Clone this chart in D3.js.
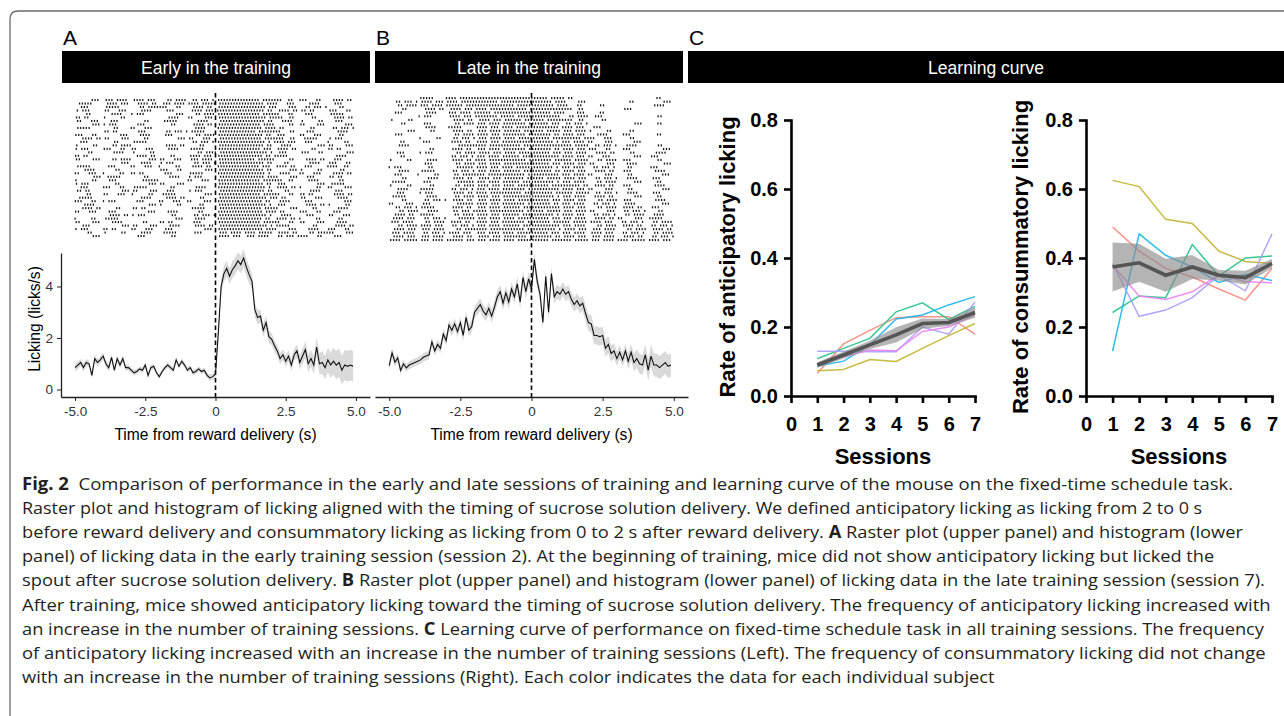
<!DOCTYPE html>
<html>
<head>
<meta charset="utf-8">
<script src="https://cdn.jsdelivr.net/npm/d3@7"></script>
<style>
  body { margin: 0; background: #fff; }
  svg { display: block; }
</style>
</head>
<body>
<svg id="fig" width="1284" height="716"></svg>
<script>
// ---- lick rasters: one string per trial, one char per 0.1 s bin from -5 s to +5 s ('#' = lick) ----
const rasterEarly = [
  "......###. .###.####. .####.###. ...##.#### ..##.###.# .######### ######.### ####..##.. ###...##.. ..####.##.",
  ".#####.... .####.###. ..####.##. .###.####. ####.##### .######### #######.## ##...###.. ...####... ..###.....",
  "..###..... .#####.... ...##.#### ###...##.. ..####.##. .######### ########.# ##....###. ..##.###.# ....##....",
  "#.###..... ##...###.. ...####... ..###..... .####.###. ########## #######.## ..####.##. ##.##..... ###...##..",
  "....##.... ...####... #.###..... ......###. ...##.#### .######### ######.### ###...##.. ..###..... .#####....",
  "##.##..... #.....##.. .......... ...####... ##....###. .######### ########.# ####..##.. ....##.... ..####.##.",
  "##...###.. ..###..... ....##.... .#####.... ...####... .######### #######.## ...####... #.....##.. ..###.....",
  "......###. #.###..... ..###..... ....##.... ..####.##. .######### ######.### #.....##.. ##....###. ......###.",
  ".#####.... ....##.... ##...###.. .......... ...####... .######### #######.## ##.##..... ....##.... ..##.###.#",
  ".......... ##.##..... ..###..... ..##.###.# .#####.... .######### ####.##### ###...##.. ..###..... ...####...",
  "###...##.. ......###. ...####... ..###..... ...##.#### .######### #######.## ..###..... ##...###.. ....##....",
  "..####.##. ##....###. ....##.... ......###. ##...###.. .######### ######.### ####..##.. .#####.... #.###.....",
  "..###..... ....##.... .#####.... .......... ..##.###.# .######### ########.# .####.###. ..###..... #.....##..",
  "#.....##.. ...##.#### .......... ..####.##. ....##.... .######### #######.## ...####... ......###. ##....###.",
  "#.###..... ###...##.. ##...###.. ...####... .#####.... .######### ######.### ..####.##. ....##.... ##.##.....",
  "....##.... ...####... #.....##.. .......... ...##.#### .######### ########.# ..###..... ###...##.. ......###.",
  "##.##..... .......... ..####.##. ....##.... .####.###. .######### #######.## .#####.... .......... ...####...",
  "##....###. ...##.#### ......###. ##...###.. .###.####. .######### ####.##### #.....##.. ..####.##. ..###.....",
  ".......... ......###. ...####... #.###..... ..##.###.# .######### #######.## ....##.... ...####... ###...##..",
  ".#####.... ..###..... ##...###.. #.....##.. ..####.##. .######### ######.### ..####.##. ..###..... ####..##..",
  "...####... ....##.... .......... ###...##.. ......###. .######### #######.## ......###. #.....##.. ....##....",
  "##...###.. #.....##.. ##.##..... ..###..... .#####.... .######### ########.# ...####... ##...###.. ..####.##.",
  "......###. .#####.... ....##.... ...####... #.###..... .######### #######.## ##....###. ..###..... ##.##.....",
  "#.....##.. ..###..... ....###### .......... ##...###.. .######### ######.### ####..##.. ...####... ....##....",
  "#.###..... ....##.... ......###. ##....###. .......... .######### #######.## ..###..... ......###. .#####....",
  "..###..... ###...##.. .#####.... ....##.... ...####... .######### ########.# ..####.##. #.....##.. ##....###.",
  "##.##..... ......###. ##....###. ..###..... #.###..... .######### #######.## ....##.... ...####... ..###.....",
  "....##.... ##...###.. #.....##.. .#####.... ......###. .######### ######.### ###...##.. ##.##..... ..####.##.",
  ".#####.... .......... ...####... ..####.##. ....##.... .######### ########.# ##.##..... ##...###.. ...####...",
  "###...##.. #.###..... ..###..... ##...###.. ##....###. .######### #######.## ...####... ..###..... ......###.",
  "...####... .......... ......###. #.....##.. ....##.... .######### ########.# ..###..... ..####.##. #.....##..",
  "..####.##. ....##.... ##.##..... .......... .#####.... .######### ######.### ##....###. ....##.... ...####...",
  "##...###.. ..###..... ......###. ...####... ....##.... .######### #######.## ##.##..... ###...##.. ..###.....",
  ".......... ..####.##. #.###..... ....##.... ..##.###.# .######### ########.# ...####... ..###..... ##...###..",
  "#.....##.. .#####.... .......... ......###. ...####... .######### #######.## ..####.##. #.....##.. ....##....",
  "##....###. ...####... ....##.... ##.##..... ..###..... .######### ######.### ###...##.. ##....###. ...####...",
  "..###..... ......###. ##....###. ...####... ..####.##. .######### ########.# .#####.... ....##.... ..####.##.",
  "#.###..... ##.##..... ##...###.. ..###..... ......###. .######### #######.## ##....###. ...####... ###...##..",
  "....##.... #.....##.. ...####... .#####.... ..###..... .###.####. ####.##### ..####.##. ...##.#### ##....###.",
  "......###. .......... ..###..... ....##.... .......... .####.###. .###.####. ..##.###.# ###...##.. ..###....."
];

const rasterLate = [
  ".......... .#####.... ####.##### ########## ########## ######.### ##.##..... .......... .......... ....##....",
  "..##.###.# .####.###. ####.##### ########.# ########## #######.## ##....###. .......... ....##.... ......###.",
  "...##.#### .###.####. ######.### ########## ####.##### ########.# ###...##.. ....##.... .......... ...####...",
  "....##.... ..####.##. .####.###. ####.##### ########.# ########## ####..##.. .......... ..###..... ..........",
  "..###..... ...####... .###.####. ######.### ########## #######.## ##....###. ....##.... .......... ..........",
  ".......... #.###..... .####.###. ########.# ####.##### ########## ...##.#### ..###..... .......... ....##....",
  "#.....##.. .......... ..####.##. .####.###. ######.### ####.##### ####..##.. ....##.... .......... ..........",
  "....##.... ..###..... ...##.#### .###.####. ########.# ######.### ..##.###.# .......... ......###. ....##....",
  ".......... ...####... .#####.... .####.###. ####.##### ########## .####.###. ..###..... .......... ..........",
  "......###. ....##.... ..####.##. .###.####. ######.### ####.##### .###.####. #.....##.. ....##.... ..........",
  "..###..... .......... ...##.#### .####.###. ########.# #######.## .####.###. ...####... ..###..... ....##....",
  ".......... #.....##.. ..##.###.# .###.####. ####.##### ######.### #######.## ##...###.. ....##.... ..........",
  "....##.... ..###..... ..####.##. .####.###. ########## ########.# .###.####. ##....###. ......###. ..........",
  "...####... .......... ....###### ####.##### ######.### ########## ####.##### ..##.###.# ...####... ....##....",
  ".......... ....##.... ..####.##. .###.####. ########.# #######.## .####.###. ###...##.. ..###..... ......###.",
  "..###..... #.###..... ...##.#### .####.###. ####.##### ######.### .###.####. ..####.##. ....##.... ...####...",
  "....##.... .......... ..##.###.# .###.####. ######.### ########## .####.###. ##...###.. ......###. ..###.....",
  "#.....##.. ...####... ..####.##. ####.##### ########.# #######.## ####.##### ...##.#### ..###..... ....##....",
  ".......... ..###..... ...##.#### .###.####. ########## ######.### .####.###. ##....###. ...####... ......###.",
  "#.###..... ....##.... ....###### .####.###. ####.##### ########.# .###.####. ..##.###.# ....##.... ..###.....",
  "...####... .#####.... ..##.###.# .###.####. ######.### #######.## .####.###. ..####.##. ..###..... ...####...",
  "..###..... #.....##.. ...##.#### ####.##### ########.# ########## .###.####. ##....###. ....##.... ......###.",
  "....##.... ...####... ..####.##. .####.###. #######.## ####.##### .####.###. ..##.###.# ...####... ..###.....",
  ".#####.... ..###..... ....###### .###.####. ######.### ########.# .###.####. ...##.#### ......###. ....##....",
  "#.....##.. ....##.... ...##.#### .####.###. ####.##### ######.### #######.## ..####.##. ..###..... ...####...",
  "...####... .#####.... ..##.###.# .###.####. ########.# ########## .####.###. ##....###. ....##.... ......###.",
  "..###..... #.###..... ..####.##. ####.##### ######.### #######.## ####.##### ..##.###.# ...####... ..###.....",
  ".#####.... ...####... ...##.#### .####.###. ########## ########.# .###.####. ..####.##. ......###. ....##....",
  "....##.... ..##.###.# ..####.##. .###.####. ####.##### ######.### .####.###. ...##.#### ..###..... ...####...",
  "##....###. ..###..... ....###### .####.###. ########.# #######.## .###.####. ..##.###.# ...####... ......###.",
  "..##.###.# .#####.... ..####.##. .###.####. ######.### ########## .####.###. ...##.#### ..####.##. ..###.....",
  "...##.#### ...####... ..##.###.# ####.##### #######.## ####.##### .###.####. ##....###. ..##.###.# ....##....",
  "..####.##. .#####.... ...##.#### .####.###. ######.### ########.# .####.###. ..##.###.# ...##.#### ...####...",
  ".####.###. ..##.###.# ....###### .###.####. ####.##### ######.### .###.####. ..####.##. ##....###. .#####....",
  ".###.####. ...##.#### ..####.##. .####.###. ########.# #######.## ####.##### .####.###. ..##.###.# ...##.####",
  "...##.#### .####.###. ..##.###.# .###.####. ######.### ########## .###.####. ...##.#### ..####.##. ..##.###.#",
  ".####.###. .###.####. ...##.#### ####.##### #######.## ########.# .####.###. .###.####. ...##.#### ..####.##.",
  ".###.####. ..##.###.# .####.###. .###.####. ####.##### ######.### .###.####. .####.###. ..##.###.# ...##.####",
  ".####.###. .###.####. ..####.##. .####.###. ########.# #######.## .####.###. .###.####. ..####.##. ..##.###.#",
  "####.##### .###.####. ######.### .###.####. ####.##### ######.### ####.##### .###.####. ####.##### .####.###."
];

// lick phase inside the bin for each trial row (fraction of a bin)
const lickPhase = [0.1,0.6,0.3,0.8,0.2,0.5,0.9,0.4,0.0,0.7, 0.3,0.8,0.1,0.6,0.4,0.9,0.2,0.5,0.7,0.0,
                   0.6,0.1,0.8,0.3,0.5,0.2,0.9,0.4,0.7,0.1, 0.5,0.8,0.2,0.6,0.0,0.4,0.9,0.3,0.7,0.5];

// ---- lick histograms (licks/s), 100 bins from -5.0 s to 4.9 s ----
const histEarly = [
  0.85,0.95,1.05,0.85,1.05,1.0,0.55,1.2,1.05,1.15, 1.3,1.0,0.85,1.25,0.75,1.2,0.95,1.2,0.85,0.85,
  0.75,0.65,0.7,0.8,0.75,0.95,0.55,0.85,0.9,0.65, 0.5,0.7,0.85,0.95,0.85,0.75,1.15,0.9,1.1,0.95,
  0.75,0.85,0.65,0.7,0.8,0.7,0.75,0.55,0.45,0.5,
  0.6,2.2,4.0,4.5,4.7,4.4,4.65,4.8,5.0,4.85, 5.1,4.75,4.45,4.2,3.1,2.8,2.85,2.3,2.6,2.05,
  1.95,1.7,1.5,1.2,1.35,1.1,1.3,0.95,1.35,1.5, 1.05,1.3,1.55,1.0,1.2,0.95,1.65,1.0,1.05,0.85,
  1.15,0.95,1.1,0.95,1.05,0.75,0.95,0.9,0.95,0.9
];
const semEarly = [
  0.15,0.15,0.14,0.15,0.14,0.13,0.13,0.15,0.14,0.14, 0.13,0.13,0.14,0.13,0.12,0.13,0.12,0.12,0.12,0.11,
  0.11,0.11,0.11,0.10,0.11,0.11,0.10,0.11,0.10,0.10, 0.10,0.10,0.10,0.11,0.10,0.11,0.11,0.10,0.11,0.11,
  0.10,0.10,0.10,0.10,0.10,0.10,0.10,0.10,0.12,0.12,
  0.15,0.25,0.30,0.30,0.30,0.30,0.32,0.33,0.33,0.34, 0.35,0.34,0.33,0.30,0.28,0.27,0.26,0.26,0.25,0.24,
  0.23,0.22,0.22,0.21,0.21,0.21,0.22,0.22,0.23,0.25, 0.27,0.30,0.32,0.33,0.33,0.35,0.38,0.42,0.45,0.45,
  0.47,0.50,0.52,0.55,0.55,0.56,0.58,0.60,0.60,0.60
];
const histLate = [
  0.93,1.42,1.06,1.23,0.74,1.0,0.84,0.95,1.0,1.05, 1.1,1.15,1.25,1.3,1.35,1.85,1.5,1.75,1.6,2.15,
  1.9,2.5,2.3,2.55,2.25,2.6,2.1,2.8,2.3,2.45, 3.0,3.15,3.3,3.05,2.9,3.15,2.85,3.2,3.6,3.8,
  3.35,3.75,3.4,3.9,3.6,4.1,3.4,4.35,3.8,4.3,
  3.9,5.05,4.2,3.7,2.6,4.4,3.0,4.5,3.6,3.8, 3.7,3.9,3.7,3.8,3.5,3.3,3.45,3.25,3.35,2.95,
  2.6,2.55,2.1,2.1,2.05,2.1,1.6,1.75,1.4,1.5, 1.2,1.45,1.15,1.5,1.1,1.45,1.05,1.2,1.0,0.95,
  1.35,0.75,1.3,0.95,0.95,0.85,0.95,1.05,0.9,0.95
];
const semLate = [
  0.20,0.20,0.18,0.17,0.16,0.15,0.15,0.15,0.15,0.15, 0.15,0.16,0.16,0.17,0.17,0.18,0.18,0.19,0.19,0.20,
  0.20,0.21,0.21,0.22,0.22,0.22,0.23,0.23,0.23,0.24, 0.24,0.24,0.25,0.25,0.25,0.25,0.26,0.26,0.26,0.26,
  0.26,0.27,0.27,0.27,0.27,0.28,0.28,0.28,0.28,0.28,
  0.28,0.28,0.28,0.28,0.28,0.28,0.28,0.28,0.28,0.28, 0.27,0.27,0.27,0.27,0.28,0.28,0.29,0.30,0.30,0.31,
  0.32,0.33,0.34,0.35,0.35,0.35,0.34,0.33,0.32,0.30, 0.28,0.27,0.27,0.28,0.30,0.32,0.34,0.36,0.38,0.40,
  0.41,0.42,0.43,0.44,0.45,0.45,0.45,0.45,0.45,0.45
];
const histTicks = [-5, -2.5, 0, 2.5, 5];
const histYTicks = [0, 2, 4];

// ---- learning curves ----
const sessions = [1, 2, 3, 4, 5, 6, 7];
const sessionTicks = [0, 1, 2, 3, 4, 5, 6, 7];
const rateTicks = [0, 0.2, 0.4, 0.6, 0.8];
const subjectColors = ["#F7877C", "#C1B12E", "#21C285", "#19B2F0", "#A79CFF", "#EA83F2"];

const antSalmon   = [0.066, 0.151, 0.190, 0.227, 0.230, 0.230, 0.179];
const antOlive    = [0.073, 0.077, 0.106, 0.100, 0.138, 0.175, 0.210];
const antGreen    = [0.108, 0.138, 0.167, 0.244, 0.270, 0.222, 0.260];
const antCyan     = [0.087, 0.101, 0.148, 0.223, 0.235, 0.264, 0.288];
const antLavender = [0.130, 0.130, 0.128, 0.128, 0.200, 0.179, 0.272];
const antPink     = [0.093, 0.114, 0.133, 0.131, 0.187, 0.200, 0.235];
const antMean     = [0.090, 0.119, 0.148, 0.177, 0.210, 0.213, 0.242];
const antSem      = [0.008, 0.010, 0.012, 0.022, 0.015, 0.010, 0.015];

const conSalmon   = [0.490, 0.420, 0.370, 0.345, 0.310, 0.278, 0.370];
const conOlive    = [0.625, 0.607, 0.512, 0.500, 0.420, 0.390, 0.384];
const conGreen    = [0.242, 0.290, 0.285, 0.439, 0.348, 0.400, 0.406];
const conCyan     = [0.130, 0.470, 0.408, 0.374, 0.329, 0.353, 0.335];
const conLavender = [0.384, 0.231, 0.249, 0.285, 0.350, 0.305, 0.470];
const conPink     = [0.380, 0.290, 0.280, 0.302, 0.352, 0.331, 0.328];
const conMean     = [0.374, 0.386, 0.350, 0.374, 0.350, 0.343, 0.384];
const conSem      = [0.071, 0.055, 0.048, 0.035, 0.015, 0.020, 0.013];

// ---- caption ----
const captionLines = [
  [["Fig. 2", true], ["  Comparison of performance in the early and late sessions of training and learning curve of the mouse on the fixed-time schedule task.", false]],
  [["Raster plot and histogram of licking aligned with the timing of sucrose solution delivery. We defined anticipatory licking as licking from 2 to 0 s", false]],
  [["before reward delivery and consummatory licking as licking from 0 to 2 s after reward delivery. ", false], ["A", true], [" Raster plot (upper panel) and histogram (lower", false]],
  [["panel) of licking data in the early training session (session 2). At the beginning of training, mice did not show anticipatory licking but licked the", false]],
  [["spout after sucrose solution delivery. ", false], ["B", true], [" Raster plot (upper panel) and histogram (lower panel) of licking data in the late training session (session 7).", false]],
  [["After training, mice showed anticipatory licking toward the timing of sucrose solution delivery. The frequency of anticipatory licking increased with", false]],
  [["an increase in the number of training sessions. ", false], ["C", true], [" Learning curve of performance on fixed-time schedule task in all training sessions. The frequency", false]],
  [["of anticipatory licking increased with an increase in the number of training sessions (Left). The frequency of consummatory licking did not change", false]],
  [["with an increase in the number of training sessions (Right). Each color indicates the data for each individual subject", false]]
];
const captionEnds = [1234, 1203, 1244, 1215, 1266, 1272, 1266, 1266, 995];

const FONT = "'Liberation Sans', Arial, sans-serif";
const svg = d3.select("#fig");

// outer frame
svg.append("path")
    .attr("d", "M10,716 L10,19 Q10,11 18,11 L1284,11")
    .attr("fill", "none")
    .attr("stroke", "#6b6b6b")
    .attr("stroke-width", 1.3);

// panel letters + black header bars
const headers = [
    {letter: "A", title: "Early in the training", x0: 62, x1: 370},
    {letter: "B", title: "Late in the training", x0: 375, x1: 683},
    {letter: "C", title: "Learning curve", x0: 688, x1: 1284}
];
headers.forEach(h => {
    svg.append("text")
        .attr("x", h.x0 + 1).attr("y", 45)
        .style("font-family", FONT).style("font-size", "21px")
        .text(h.letter);
    svg.append("rect")
        .attr("x", h.x0).attr("y", 51)
        .attr("width", h.x1 - h.x0).attr("height", 32)
        .attr("fill", "#000");
    svg.append("text")
        .attr("x", (h.x0 + h.x1) / 2).attr("y", 74)
        .attr("text-anchor", "middle")
        .style("font-family", FONT).style("font-size", "17.5px")
        .attr("fill", "#fff")
        .text(h.title);
});

// ---------- panels A and B ----------
const yH = d3.scaleLinear().domain([-0.29, 5.3]).range([397, 253]);

const drawLickPanel = (opts) => {
    const x = d3.scaleLinear().domain([-5.5, 5.5]).range(opts.xRange);
    const g = svg.append("g");

    // raster
    const rowY = d3.scalePoint().domain(d3.range(opts.raster.length)).range(opts.rowRange);
    const dots = [];
    opts.raster.forEach((row, r) => {
        row.replace(/ /g, "").split("").forEach((ch, i) => {
            if (ch === "#") dots.push({t: -5 + (i + lickPhase[r]) * 0.1, r});
        });
    });
    g.append("g").selectAll("rect")
        .data(dots)
        .enter()
        .append("rect")
        .attr("x", d => x(d.t) - 0.6)
        .attr("y", d => rowY(d.r) - 1.0)
        .attr("width", 1.3)
        .attr("height", 2.1)
        .attr("fill", "#1a1a1a");

    // histogram with sem ribbon
    const pts = opts.hist.map((v, i) => ({t: -5 + i * 0.1, v, s: opts.sem[i]}));
    g.append("path")
        .datum(pts)
        .attr("d", d3.area().x(d => x(d.t)).y0(d => yH(d.v - d.s)).y1(d => yH(d.v + d.s)))
        .attr("fill", "#dadada");
    g.append("path")
        .datum(pts)
        .attr("d", d3.line().x(d => x(d.t)).y(d => yH(d.v)))
        .attr("fill", "none")
        .attr("stroke", "#111")
        .attr("stroke-width", 1.1);

    // reward delivery marker
    g.append("line")
        .attr("x1", x(0)).attr("x2", x(0))
        .attr("y1", 93).attr("y2", 397)
        .attr("stroke", "#000")
        .attr("stroke-width", 1.6)
        .attr("stroke-dasharray", "4.5 3");

    // x axis
    const xAxis = g.append("g")
        .attr("transform", "translate(0,397)")
        .call(d3.axisBottom(x).tickValues(histTicks).tickSize(4).tickSizeOuter(0).tickPadding(5)
            .tickFormat(d => d === 0 ? "0" : d.toFixed(1)));
    xAxis.select(".domain").attr("stroke", "#222").attr("stroke-width", 1.3);
    xAxis.selectAll(".tick line").attr("stroke", "#222");
    xAxis.selectAll("text").style("font-family", FONT).style("font-size", "13.5px").attr("fill", "#333");

    g.append("text")
        .attr("x", x(0)).attr("y", 440)
        .attr("text-anchor", "middle")
        .style("font-family", FONT).style("font-size", "15.6px")
        .text("Time from reward delivery (s)");

    if (opts.yAxis) {
        const yAxis = g.append("g")
            .attr("transform", `translate(${opts.xRange[0]},0)`)
            .call(d3.axisLeft(yH).tickValues(histYTicks).tickSize(4).tickSizeOuter(0).tickPadding(4)
                .tickFormat(d3.format("d")));
        yAxis.select(".domain").attr("stroke", "#222").attr("stroke-width", 1.3);
        yAxis.selectAll(".tick line").attr("stroke", "#222");
        yAxis.selectAll("text").style("font-family", FONT).style("font-size", "13.5px").attr("fill", "#333");
        g.append("text")
            .attr("transform", "translate(40,319) rotate(-90)")
            .attr("text-anchor", "middle")
            .style("font-family", FONT).style("font-size", "15.6px")
            .text("Licking (licks/s)");
    }
};

drawLickPanel({xRange: [61, 370], rowRange: [100, 236], raster: rasterEarly, hist: histEarly, sem: semEarly, yAxis: true});
drawLickPanel({xRange: [375, 688], rowRange: [98, 240], raster: rasterLate, hist: histLate, sem: semLate, yAxis: false});

// ---------- panel C ----------
const yR = d3.scaleLinear().domain([0, 0.8]).range([396, 120]);

const drawCurve = (opts) => {
    const x = d3.scaleLinear().domain([0, 7]).range(opts.xRange);
    const g = svg.append("g");
    const line = d3.line().x((d, i) => x(sessions[i])).y(d => yR(d));

    opts.subjects.forEach((vals, k) => {
        g.append("path")
            .datum(vals)
            .attr("d", line)
            .attr("fill", "none")
            .attr("stroke", subjectColors[k])
            .attr("stroke-width", 1.5)
            .attr("stroke-opacity", 0.9);
    });

    g.append("path")
        .datum(opts.mean)
        .attr("d", d3.area()
            .x((d, i) => x(sessions[i]))
            .y0((d, i) => yR(d - opts.sem[i]))
            .y1((d, i) => yR(d + opts.sem[i])))
        .attr("fill", "#8c8c8c")
        .attr("fill-opacity", 0.65);

    g.append("path")
        .datum(opts.mean)
        .attr("d", line)
        .attr("fill", "none")
        .attr("stroke", "#555")
        .attr("stroke-width", 3.6);

    const xAxis = g.append("g")
        .attr("transform", "translate(0,396)")
        .call(d3.axisBottom(x).tickValues(sessionTicks).tickSize(7).tickSizeOuter(0).tickPadding(14)
            .tickFormat(d3.format("d")));
    const yAxis = g.append("g")
        .attr("transform", `translate(${opts.xRange[0]},0)`)
        .call(d3.axisLeft(yR).tickValues(rateTicks).tickSize(7).tickSizeOuter(0).tickPadding(6)
            .tickFormat(d3.format(".1f")));
    [xAxis, yAxis].forEach(a => {
        a.select(".domain").attr("stroke", "#000").attr("stroke-width", 2.6).attr("stroke-linecap", "square");
        a.selectAll(".tick line").attr("stroke", "#000").attr("stroke-width", 2.6);
        a.selectAll("text")
            .style("font-family", FONT).style("font-size", "20px").style("font-weight", "bold")
            .attr("fill", "#000");
    });

    g.append("text")
        .attr("x", (opts.xRange[0] + opts.xRange[1]) / 2).attr("y", 464)
        .attr("text-anchor", "middle")
        .style("font-family", FONT).style("font-size", "22px").style("font-weight", "bold")
        .text("Sessions");

    g.append("text")
        .attr("transform", `translate(${opts.titleX},257) rotate(-90)`)
        .attr("text-anchor", "middle")
        .style("font-family", FONT).style("font-size", "22px").style("font-weight", "bold")
        .text(opts.title);
};

drawCurve({
    xRange: [791, 975], titleX: 735, title: "Rate of anticipatory licking",
    subjects: [antSalmon, antOlive, antGreen, antCyan, antLavender, antPink],
    mean: antMean, sem: antSem
});
drawCurve({
    xRange: [1086, 1272], titleX: 1028, title: "Rate of consummatory licking",
    subjects: [conSalmon, conOlive, conGreen, conCyan, conLavender, conPink],
    mean: conMean, sem: conSem
});

// ---------- caption ----------
captionLines.forEach((segs, li) => {
    const baseline = 490 + li * 24.1;
    const t = svg.append("text")
        .attr("x", 0).attr("y", 0)
        .attr("xml:space", "preserve")
        .style("white-space", "pre")
        .style("font-family", "'Open Sans', 'Noto Sans', sans-serif")
        .style("font-size", "17px")
        .attr("fill", "#231f20");
    segs.forEach(([txt, bold]) => {
        t.append("tspan")
            .style("font-weight", bold ? "bold" : "normal")
            .text(txt);
    });
    const w = t.node().getBBox().width;
    const sx = (captionEnds[li] - 22) / w;
    t.attr("transform", `translate(22,${baseline}) scale(${sx},1)`);
});
</script>
</body>
</html>
